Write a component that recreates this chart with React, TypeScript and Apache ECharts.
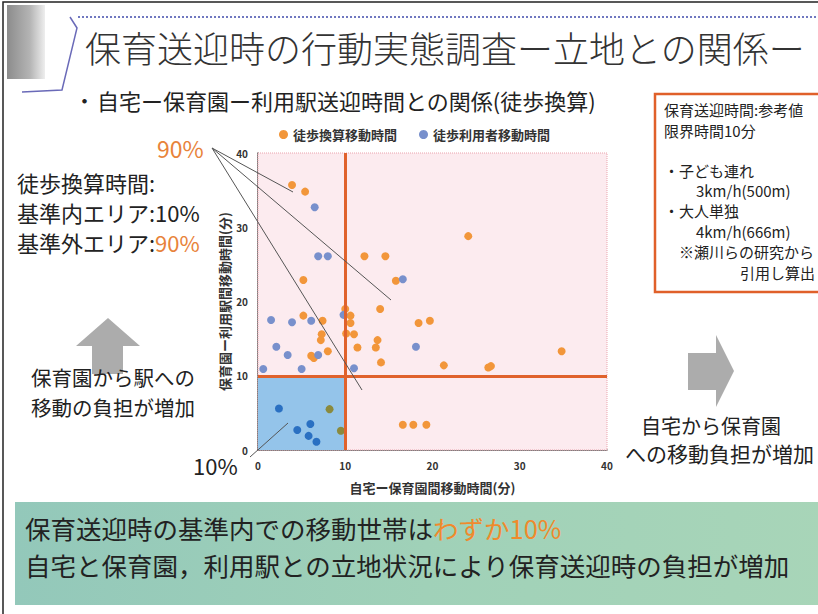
import React, { useEffect, useRef } from "react";
import * as echarts from "echarts";

// Legend / series names
const seriesNames = ["徒歩換算移動時間", "徒歩利用者移動時間"];

// [自宅ー保育園間移動時間(分), 保育園ー利用駅間移動時間(分)]
const walkEquivPoints: [number, number][] = [
  [3.9, 35.7], [5.4, 34.8], [5.2, 22.9], [5.2, 18.1], [7.4, 17.4],
  [7.3, 15.6], [7.2, 14.8], [8.0, 13.3], [6.1, 12.7], [6.4, 12.4],
  [10.0, 19.0], [10.6, 18.1], [10.6, 17.1], [10.1, 15.7], [11.0, 15.6],
  [11.4, 13.8], [12.2, 26.1], [14.6, 26.1], [15.8, 22.8], [14.0, 19.0],
  [13.7, 14.8], [13.5, 13.8], [14.1, 11.8], [18.4, 17.1], [19.7, 17.4],
  [24.1, 28.8], [21.3, 11.4], [26.4, 11.1], [26.7, 11.3], [34.8, 13.3],
  [16.6, 3.4], [17.8, 3.4], [19.3, 3.4], [8.2, 5.5], [9.5, 2.6],
];

const walkerPoints: [number, number][] = [
  [6.5, 32.7], [6.9, 26.1], [8.0, 26.1], [16.6, 23.0], [1.5, 17.5],
  [3.9, 17.2], [6.1, 17.4], [9.8, 18.2], [2.1, 13.9], [3.4, 12.8],
  [6.9, 12.8], [18.1, 13.9], [0.6, 10.9], [5.0, 10.9], [11.0, 11.0],
  [2.4, 5.6], [4.5, 2.7], [6.0, 3.5], [5.8, 1.9], [6.7, 1.1],
];

const limitMinutes = 10;
const axisMax = 40;
const axisInterval = 10;

const xAxisName = "自宅ー保育園間移動時間(分)";
const yAxisName = "保育園ー利用駅間移動時間(分)";

const FONT = '"Noto Sans CJK JP", "Noto Sans", sans-serif';
const ORANGE = "#f2963a";
const BLUE = "#7890cc";
const ORANGE_IN = "#8a8a3e";
const BLUE_IN = "#2a70c2";
const ACCENT = "#e8833a";

function txt(x: number, y: number, text: string, fontSize: number, extra: any = {}) {
  return {
    type: "text",
    x,
    y,
    silent: true,
    style: {
      text,
      fontSize,
      fontFamily: FONT,
      fill: "#222",
      verticalAlign: "middle",
      align: "left",
      ...extra,
    },
  };
}

export default function App() {
  const ref = useRef<HTMLDivElement>(null);

  useEffect(() => {
    document.body.style.margin = "0";
    document.body.style.overflow = "hidden";
    const chart = echarts.init(ref.current!, undefined, { renderer: "svg" });

    const inLimit = (v: number[]) => v[0] < limitMinutes && v[1] < limitMinutes;

    const graphics: any[] = [
      // slide frame
      { type: "rect", shape: { x: 3, y: 2, width: 840, height: 640 }, style: { fill: "none", stroke: "#222", lineWidth: 1.5 }, silent: true },
      // gray block
      {
        type: "rect",
        shape: { x: 7, y: 5, width: 38, height: 74 },
        style: {
          fill: new echarts.graphic.LinearGradient(0, 0, 1, 0, [
            { offset: 0, color: "#8c8c8c" },
            { offset: 0.6, color: "#b4b4b4" },
            { offset: 1, color: "#eeeeee" },
          ]),
        },
        silent: true,
      },
      // title decoration
      { type: "line", shape: { x1: 78, y1: 17, x2: 818, y2: 17 }, style: { stroke: "#7078c0", lineWidth: 2, lineDash: [2, 2] }, silent: true },
      { type: "polyline", shape: { points: [[70, 17], [77, 28], [62, 90], [22, 92]] }, style: { stroke: "#6a6ab8", lineWidth: 1.5, fill: "none" }, silent: true },
      txt(85, 47, "保育送迎時の行動実態調査ー立地との関係ー", 36, { fill: "#333", fontWeight: 300 }),
      txt(74, 100, "・", 21),
      txt(97, 100, "自宅ー保育園ー利用駅送迎時間との関係(徒歩換算)", 22),

      // right info box
      { type: "rect", shape: { x: 655, y: 94, width: 180, height: 198 }, style: { fill: "#fff", stroke: "#e0602a", lineWidth: 2.5 }, silent: true },
      txt(664, 109, "保育送迎時間:参考値", 15),
      txt(664, 130, "限界時間10分", 15),
      txt(664, 170, "・子ども連れ", 15),
      txt(696, 190, "3km/h(500m)", 15),
      txt(664, 210, "・大人単独", 15),
      txt(696, 231, "4km/h(666m)", 15),
      txt(679, 251, "※瀬川らの研究から", 15),
      txt(740, 272, "引用し算出", 15),

      // left annotations
      txt(157, 148, "90%", 23, { fill: ACCENT }),
      txt(17, 182, "徒歩換算時間:", 22),
      txt(17, 212, "基準内エリア:10%", 22),
      {
        type: "text",
        x: 17,
        y: 242,
        silent: true,
        style: {
          text: "{a|基準外エリア:}{b|90%}",
          verticalAlign: "middle",
          rich: {
            a: { fontSize: 22, fontFamily: FONT, fill: "#222", color: "#222" },
            b: { fontSize: 22, fontFamily: FONT, fill: ACCENT, color: ACCENT },
          },
        },
      },
      txt(193, 465, "10%", 22),
      { type: "line", shape: { x1: 212, y1: 148, x2: 293, y2: 192 }, style: { stroke: "#555", lineWidth: 1 }, silent: true, z: 10 },
      { type: "line", shape: { x1: 212, y1: 148, x2: 391, y2: 300 }, style: { stroke: "#555", lineWidth: 1 }, silent: true, z: 10 },
      { type: "line", shape: { x1: 212, y1: 148, x2: 362, y2: 390 }, style: { stroke: "#555", lineWidth: 1 }, silent: true, z: 10 },
      { type: "line", shape: { x1: 250, y1: 457, x2: 288, y2: 423 }, style: { stroke: "#555", lineWidth: 1 }, silent: true, z: 10 },

      // up arrow
      {
        type: "polygon",
        shape: { points: [[108, 318], [140, 346], [123, 346], [123, 374], [92, 374], [92, 346], [76, 346]] },
        style: { fill: "#acacac" },
        silent: true,
      },
      txt(113, 377, "保育園から駅への", 20.5, { align: "center" }),
      txt(113, 407, "移動の負担が増加", 20.5, { align: "center" }),

      // right arrow
      {
        type: "polygon",
        shape: { points: [[688, 353], [716, 353], [716, 335], [734, 371], [716, 407], [716, 390], [688, 390]] },
        style: { fill: "#acacac" },
        silent: true,
      },
      txt(711, 425, "自宅から保育園", 20, { align: "center" }),
      txt(625, 453, "への移動負担が増加", 21),

      // bottom green box
      {
        type: "rect",
        shape: { x: 15, y: 502, width: 820, height: 103 },
        style: {
          fill: new echarts.graphic.LinearGradient(0, 0, 1, 0, [
            { offset: 0, color: "#93c8ba" },
            { offset: 0.5, color: "#a0d1b8" },
            { offset: 1, color: "#a8d5b8" },
          ]),
        },
        silent: true,
      },
      {
        type: "text",
        x: 25,
        y: 527,
        silent: true,
        style: {
          text: "{a|保育送迎時の基準内での移動世帯は}{b|わずか10%}",
          verticalAlign: "middle",
          rich: {
            a: { fontSize: 25.5, fontFamily: FONT, fill: "#222", color: "#222" },
            b: { fontSize: 25.5, fontFamily: FONT, fill: "#f08a2c", color: "#f08a2c" },
          },
        },
      },
      txt(25, 564, "自宅と保育園，利用駅との立地状況により保育送迎時の負担が増加", 25.5),
    ];

    chart.setOption({
      animation: false,
      backgroundColor: "#ffffff",
      textStyle: { fontFamily: FONT },
      graphic: { elements: graphics },
      legend: {
        top: 123,
        left: 274,
        itemWidth: 9,
        itemHeight: 9,
        itemGap: 22,
        icon: "circle",
        textStyle: { fontSize: 13, fontWeight: "bold", color: "#333", fontFamily: FONT },
        data: [
          { name: seriesNames[0], itemStyle: { color: ORANGE } },
          { name: seriesNames[1], itemStyle: { color: BLUE } },
        ],
      },
      grid: { left: 258, right: 211, top: 153, bottom: 164 },
      xAxis: {
        type: "value",
        min: 0,
        max: axisMax,
        interval: axisInterval,
        name: xAxisName,
        nameLocation: "middle",
        nameGap: 31,
        nameTextStyle: { fontSize: 13, fontWeight: "bold", color: "#333" },
        axisLine: { show: true, lineStyle: { color: "#555", width: 1.5 } },
        axisTick: { show: false },
        splitLine: { show: false },
        axisLabel: { fontSize: 10, fontWeight: "bold", color: "#333", margin: 10 },
      },
      yAxis: {
        type: "value",
        min: 0,
        max: axisMax,
        interval: axisInterval,
        name: yAxisName,
        nameLocation: "middle",
        nameRotate: 90,
        nameGap: 27,
        nameTextStyle: { fontSize: 13, fontWeight: "bold", color: "#333" },
        axisLine: { show: true, lineStyle: { color: "#555", width: 1.5 } },
        axisTick: { show: false },
        splitLine: { show: false },
        axisLabel: { fontSize: 10, fontWeight: "bold", color: "#333", margin: 10 },
      },
      series: [
        {
          type: "scatter",
          name: "bg",
          z: 1,
          silent: true,
          data: [],
          markArea: {
            silent: true,
            data: [
              [
                { coord: [0, 0], itemStyle: { color: "#fcebef", borderColor: "#eaa3ad", borderWidth: 1, borderType: "dotted" } },
                { coord: [axisMax, axisMax] },
              ],
              [
                { coord: [0, 0], itemStyle: { color: "#94c4ea", borderWidth: 0 } },
                { coord: [limitMinutes, limitMinutes] },
              ],
            ],
          },
          markLine: {
            silent: true,
            symbol: "none",
            label: { show: false },
            lineStyle: { color: "#e0622c", width: 3, type: "solid" },
            data: [{ xAxis: limitMinutes }, { yAxis: limitMinutes }],
          },
        },
        {
          type: "scatter",
          name: seriesNames[0],
          z: 3,
          symbolSize: 8,
          data: walkEquivPoints,
          itemStyle: {
            opacity: 1,
            color: (p: any) => (inLimit(p.value) ? ORANGE_IN : ORANGE),
          },
        },
        {
          type: "scatter",
          name: seriesNames[1],
          z: 3,
          symbolSize: 8,
          data: walkerPoints,
          itemStyle: {
            opacity: 1,
            color: (p: any) => (inLimit(p.value) ? BLUE_IN : BLUE),
          },
        },
      ],
    });

    return () => chart.dispose();
  }, []);

  return <div ref={ref} style={{ width: 818, height: 614 }} />;
}
